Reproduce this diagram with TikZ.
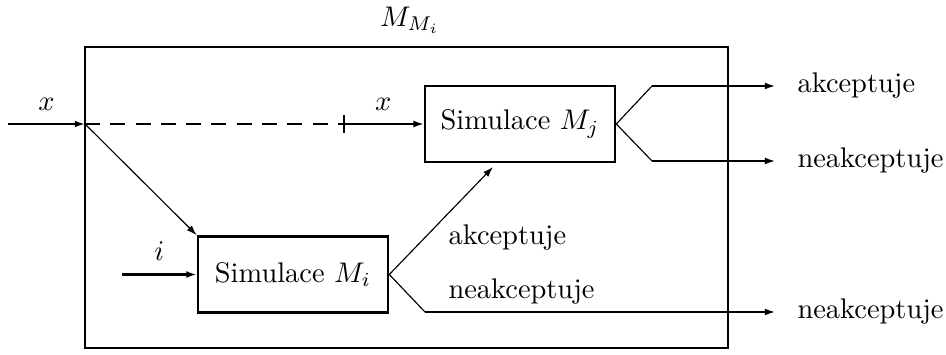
\documentclass[tikz,border=0pt]{standalone}
\usepackage{tikz}
\usetikzlibrary{arrows.meta,positioning}

\begin{document}
\begin{tikzpicture}[
  x=0.352pt, y=-0.352pt,
  blok/.style={draw, line width=0.9pt, minimum width=66.9pt, minimum height=26.8pt, inner sep=0pt},
  ram/.style={draw, line width=0.9pt, minimum width=226.3pt, minimum height=106pt, inner sep=0pt},
  sipka/.style={-{Latex[length=3.6pt,width=2.4pt]}, line width=0.55pt},
  tenka/.style={line width=0.4pt},
  lbl/.style={anchor=west, inner sep=0pt},
]
\useasboundingbox (0,0) rectangle (946,355);
% vnejsi stroj
\node[ram] (stroj) at (406.5,197.5) {};
\node (nazev) at (410,20) {$M_{M_i}$};
% simulace
\node[blok] (mj) at (520,124) {Simulace $M_j$};
\node[blok] (mi) at (293,274.5) {Simulace $M_i$};
% body
\coordinate (vstup) at (8,124);
\coordinate (rozv) at (85,124);
\coordinate (zarazka) at (343,124);
\coordinate (ivstup) at (122,274.5);
\coordinate (jhore) at (652,86);
\coordinate (jdole) at (652,161);
\coordinate (cil) at (493,167);
\coordinate (idole) at (425,312);
% vystupy
\node[lbl] (akc) at (797,86) {akceptuje};
\node[lbl] (neakcj) at (797,161) {neakceptuje};
\node[lbl] (neakci) at (797,312) {neakceptuje};
\node[lbl] (akcmi) at (448,238) {akceptuje};
\node[lbl] (neakcmi) at (448,292) {neakceptuje};

\draw[sipka, line width=0.65pt] (vstup) -- node[above=1pt] {$x$} (rozv);
\draw[line width=0.55pt, dash pattern=on 5.3pt off 3.6pt] (rozv) -- (zarazka);
\draw[sipka, {Bar[width=6pt,line width=0.7pt]}-{Latex[length=3.6pt,width=2.4pt]}] (zarazka) -- node[above=1pt] {$x$} (mj.west);
\draw[tenka, -{Latex[length=3.6pt,width=2.4pt]}] (rozv) -- (mi.north west);
\draw[sipka, line width=0.85pt] (ivstup) -- node[above=1pt] {$i$} (mi.west);
% vystupy Mj
\draw[tenka] (mj.east) -- (jhore);
\draw[tenka] (mj.east) -- (jdole);
\draw[sipka, shorten >=7.7pt] (jhore) -- (akc.west);
\draw[sipka, shorten >=7.7pt] (jdole) -- (neakcj.west);
% vystupy Mi
\draw[tenka, -{Latex[length=3.6pt,width=2.4pt]}] (mi.east) -- (cil);
\draw[tenka] (mi.east) -- (idole);
\draw[sipka, shorten >=7.7pt] (idole) -- (neakci.west |- idole);
\end{tikzpicture}
\end{document}
